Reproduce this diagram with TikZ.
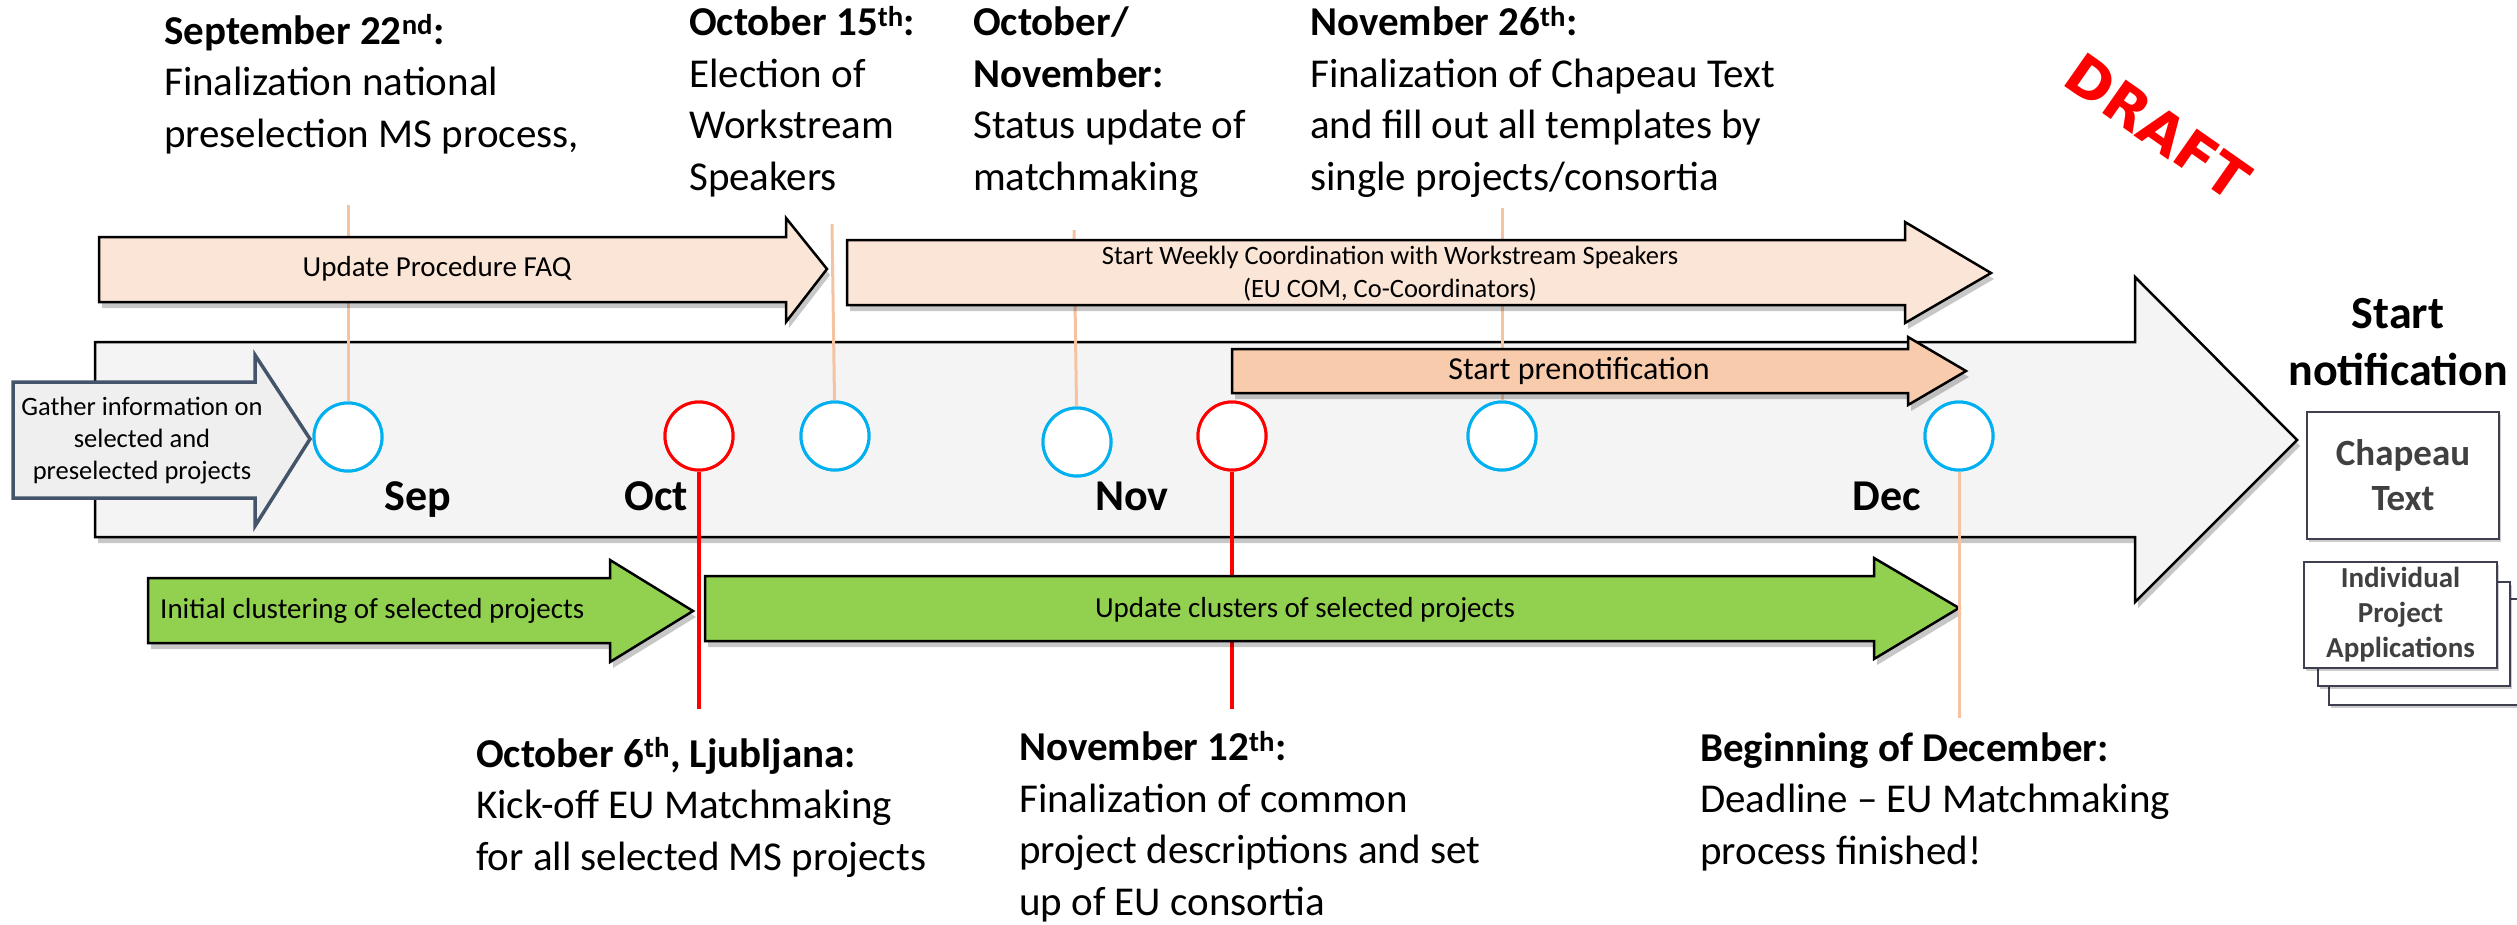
\documentclass[tikz,border=0pt]{standalone}
\usepackage{fontspec}
\setmainfont{Carlito}
\newfontfamily\draftfont{DejaVu Sans}
\usetikzlibrary{shadows}
\definecolor{lightorange}{HTML}{FBE5D6}
\definecolor{prenot}{HTML}{F8CBAD}
\definecolor{oline}{HTML}{F5C3A2}
\definecolor{cblue}{HTML}{00B0F0}
\definecolor{cgreen}{HTML}{92D050}
\definecolor{grayfill}{HTML}{F4F4F4}
\definecolor{gatherfill}{HTML}{EFEFEF}
\definecolor{gatherdraw}{HTML}{44546A}
\definecolor{boxtext}{HTML}{404040}
\definecolor{boxdraw}{HTML}{3E4050}
\begin{document}
\begin{tikzpicture}[x=1pt,y=-1pt,
  shad/.style={drop shadow={shadow xshift=3pt,shadow yshift=-6pt,opacity=0.22,fill=black}},
  orangearrow/.style={fill=lightorange,draw=black,line width=2.5pt,shad},
  prenotarrow/.style={fill=prenot,draw=black,line width=2.5pt,shad},
  greenarrow/.style={fill=cgreen,draw=black,line width=2.5pt,shad},
  grayarrow/.style={fill=grayfill,draw=black,line width=2.5pt,shad},
  gatherarrow/.style={fill=gatherfill,draw=gatherdraw,line width=3.5pt},
  orangeline/.style={draw=oline,line width=3pt},
  redline/.style={draw=red,line width=3.5pt},
  bluecirc/.style={circle,draw=cblue,fill=white,line width=3pt,minimum size=68pt,inner sep=0pt},
  redcirc/.style={circle,draw=red,fill=white,line width=3pt,minimum size=68pt,inner sep=0pt},
  evtext/.style={anchor=base west,align=left,inner sep=0pt,font=\fontsize{41}{51.5}\selectfont},
  month/.style={anchor=base,inner sep=0pt,font=\bfseries\fontsize{44}{50}\selectfont},
  arrowtext/.style={inner sep=0pt,font=\fontsize{29}{34}\selectfont},
  boxnode/.style={draw=boxdraw,fill=white,line width=2.5pt,align=center,text=boxtext,inner sep=0pt,drop shadow={shadow xshift=2pt,shadow yshift=-3pt,opacity=0.2,fill=black}},
]
\useasboundingbox (0,0) rectangle (2517,924);

% main timeline arrow
\draw[grayarrow] (95,342) -- (2135,342) -- (2135,277) -- (2297,440) -- (2135,602) -- (2135,537) -- (95,537) -- cycle;

% circles (positions)
\node[bluecirc] (cSep) at (348,437) {};
\node[redcirc] (cOctSix) at (699,436) {};
\node[bluecirc] (cOctFift) at (835,436) {};
\node[bluecirc] (cOctNov) at (1077,442) {};
\node[redcirc] (cNovTw) at (1232,436) {};
\node[bluecirc] (cNovTs) at (1502,436) {};
\node[bluecirc] (cDec) at (1959,436) {};

% connector end points
\coordinate (tSep) at (348,205);
\coordinate (tOctFift) at (832,224);
\coordinate (tOctNov) at (1074,230);
\coordinate (tNovTs) at (1502,208);
\coordinate (bOctSix) at (699,709);
\coordinate (bNovTw) at (1232,709);
\coordinate (bDec) at (1959,718);

\draw[orangeline] (tSep) -- (cSep);
\draw[orangeline] (tOctFift) -- (cOctFift);
\draw[orangeline] (tOctNov) -- (cOctNov);
\draw[orangeline] (tNovTs) -- (cNovTs);
\draw[redline] (cOctSix) -- (bOctSix);
\draw[redline] (cNovTw) -- (bNovTw);

% redraw circles on top of lines
\node[bluecirc] at (cSep) {};
\node[redcirc] at (cOctSix) {};
\node[bluecirc] at (cOctFift) {};
\node[bluecirc] at (cOctNov) {};
\node[redcirc] at (cNovTw) {};
\node[bluecirc] at (cNovTs) {};
\node[bluecirc] at (cDec) {};

% gather arrow
\draw[gatherarrow] (13,382) -- (255,382) -- (255,355) -- (310,439) -- (255,526) -- (255,498) -- (13,498) -- cycle;
\node[align=center,inner sep=0pt,font=\fontsize{26.5}{32}\selectfont] (gather) at (142,441) {Gather information on\\selected and\\preselected projects};

% upper arrows
\draw[orangearrow] (99,237) -- (786,237) -- (786,218) -- (827,269) -- (786,322) -- (786,302) -- (99,302) -- cycle;
\node[arrowtext] (faq) at (437,269) {Update Procedure FAQ};
\draw[orangearrow] (847,240) -- (1905,240) -- (1905,222) -- (1991,273) -- (1905,323) -- (1905,305) -- (847,305) -- cycle;
\node[align=center,inner sep=0pt,font=\fontsize{26.5}{33}\selectfont] (weekly) at (1390,274) {Start Weekly Coordination with Workstream Speakers\\(EU COM, Co-Coordinators)};
\draw[prenotarrow] (1232,349) -- (1908,349) -- (1908,337) -- (1966,371) -- (1908,405) -- (1908,393) -- (1232,393) -- cycle;
\node[inner sep=0pt,font=\fontsize{32}{36}\selectfont] (prenot) at (1579,371) {Start prenotification};

% lower arrows
\draw[greenarrow] (148,578) -- (610,578) -- (610,560) -- (693,611) -- (610,662) -- (610,643) -- (148,643) -- cycle;
\node[arrowtext,anchor=west] (initial) at (160,611) {Initial clustering of selected projects};
\draw[greenarrow] (705,576) -- (1874,576) -- (1874,558) -- (1959,608) -- (1874,659) -- (1874,641) -- (705,641) -- cycle;
\node[arrowtext] (updclust) at (1305,610) {Update clusters of selected projects};

\draw[orangeline] (cDec) -- (bDec);

% month labels
\node[month] (mSep) at (418,510) {Sep};
\node[month] (mOct) at (656,510) {Oct};
\node[month] (mNov) at (1132,510) {Nov};
\node[month] (mDec) at (1887,510) {Dec};

% top texts (anchored at the baseline of their last line)
\node[evtext] (tx1) at (164,147) {\textbf{September 22\textsuperscript{nd}:}\\Finalization national\\preselection MS process,};
\node[evtext] (tx2) at (689,190) {\textbf{October 15\textsuperscript{th}:}\\Election of\\Workstream\\Speakers};
\node[evtext] (tx3) at (973,190) {\textbf{October/}\\\textbf{November:}\\Status update of\\matchmaking};
\node[evtext] (tx4) at (1310,190) {\textbf{November 26\textsuperscript{th}:}\\Finalization of Chapeau Text\\and fill out all templates by\\single projects/consortia};

% bottom texts
\node[evtext] (bx1) at (476,870) {\textbf{October 6\textsuperscript{th}, Ljubljana:}\\Kick-off EU Matchmaking\\for all selected MS projects};
\node[evtext] (bx2) at (1019,915) {\textbf{November 12\textsuperscript{th}:}\\Finalization of common\\project descriptions and set\\up of EU consortia};
\node[evtext] (bx3) at (1700,864) {\textbf{Beginning of December:}\\Deadline -- EU Matchmaking\\process finished!};

% right side
\node[anchor=base,align=center,inner sep=0pt,font=\bfseries\fontsize{46}{57}\selectfont] (startnot) at (2398,385) {Start\\notification};
\node[boxnode,minimum width=192pt,minimum height=127pt,font=\bfseries\fontsize{37}{45}\selectfont] (chapeau) at (2403,475.5) {Chapeau\\Text};
\node[boxnode,minimum width=201pt,minimum height=106pt] (stack3) at (2429.5,652) {};
\node[boxnode,minimum width=192pt,minimum height=104pt] (stack2) at (2414,634) {};
\node[boxnode,minimum width=193pt,minimum height=106pt,font=\bfseries\fontsize{29}{35}\selectfont] (stack1) at (2400.5,615) {Individual\\Project\\Applications};

% draft stamp
\node[rotate=-35,text=red,inner sep=0pt,font=\draftfont\bfseries\fontsize{56}{56}\selectfont] (draft) at (2158,127) {DRAFT};
\end{tikzpicture}
\end{document}
